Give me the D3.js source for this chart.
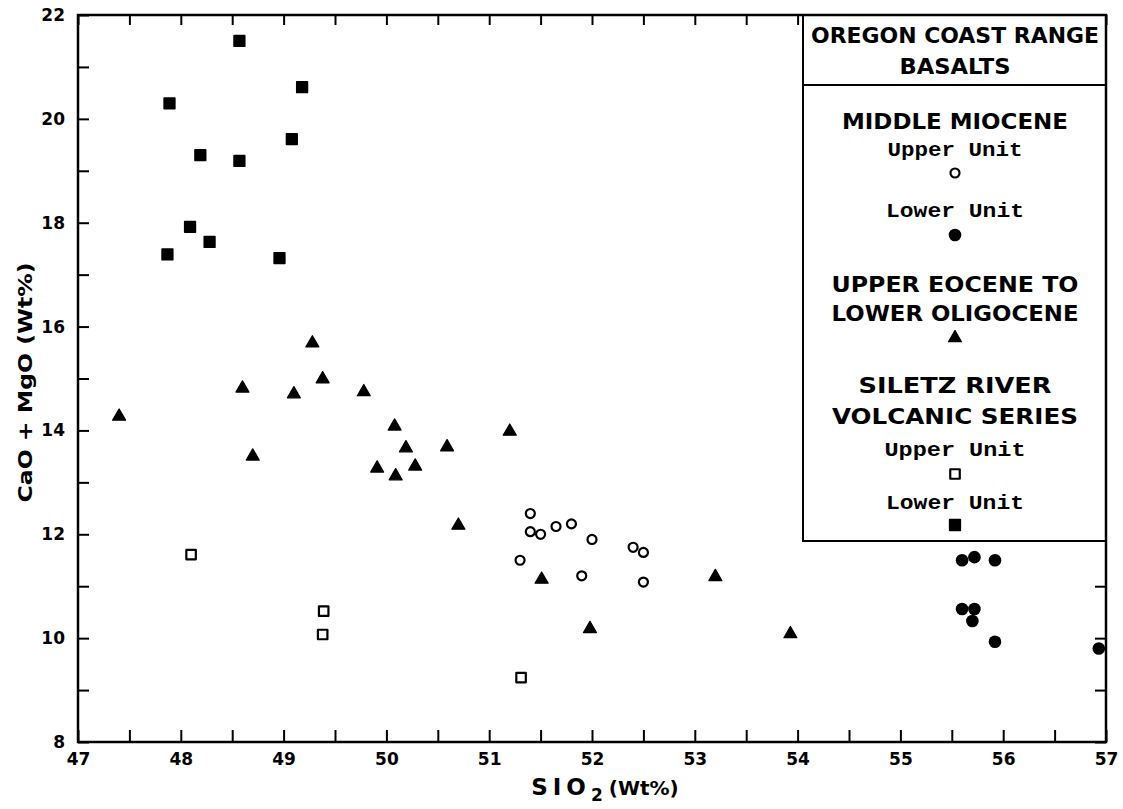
<!DOCTYPE html>
<html>
<head>
<meta charset="utf-8">
<script src="https://cdn.jsdelivr.net/npm/d3@7"></script>
<style>
  body { margin: 0; background: #fff; }
  svg { display: block; }
  .tick text { font-family: "DejaVu Sans", sans-serif; font-weight: bold; font-size: 17px; }
</style>
</head>
<body>
<div id="chart"></div>
<script>
// SiO2 (wt%), CaO + MgO (wt%)
const middleMioceneUpper = [
  [51.3, 11.5], [51.4, 12.4], [51.4, 12.05], [51.5, 12.0], [51.65, 12.15], [51.8, 12.2],
  [52.0, 11.9], [51.9, 11.2], [52.4, 11.75], [52.5, 11.65], [52.5, 11.08]
];
const middleMioceneLower = [
  [55.6, 11.5], [55.72, 11.56], [55.92, 11.5], [55.6, 10.56], [55.72, 10.56],
  [55.7, 10.33], [55.92, 9.93], [56.93, 9.8]
];
const eoceneOligocene = [
  [47.4, 14.27], [48.6, 14.81], [48.7, 13.5], [49.28, 15.68], [49.1, 14.7], [49.38, 14.99],
  [49.78, 14.74], [50.08, 14.08], [50.19, 13.66], [50.59, 13.68], [51.2, 13.98], [49.91, 13.27],
  [50.28, 13.31], [50.09, 13.12], [50.7, 12.17], [51.51, 11.13], [51.98, 10.18], [53.2, 11.18],
  [53.93, 10.08]
];
const siletzUpper = [[48.1, 11.61], [49.39, 10.52], [49.38, 10.07], [51.31, 9.24]];
const siletzLower = [
  [48.57, 21.5], [49.18, 20.61], [47.89, 20.3], [49.08, 19.61], [48.19, 19.3],
  [48.57, 19.19], [48.09, 17.92], [48.28, 17.63], [47.87, 17.39], [48.96, 17.32]
];

const X_DOMAIN = [47, 57];
const Y_DOMAIN = [8, 22];
const legendTitle = ["OREGON COAST RANGE", "BASALTS"];
const legendGroups = ["MIDDLE MIOCENE", "UPPER EOCENE TO|LOWER OLIGOCENE", "SILETZ RIVER|VOLCANIC SERIES"];
const unitLabels = ["Upper Unit", "Lower Unit"];

const WIDTH = 1123, HEIGHT = 809;
const LEFT = 78, RIGHT = 1106, TOP = 15, BOTTOM = 742;

const svg = d3.select("#chart").append("svg")
  .attr("width", WIDTH).attr("height", HEIGHT)
  .style("background", "#fff");

const x = d3.scaleLinear().domain(X_DOMAIN).range([LEFT, RIGHT]);
const y = d3.scaleLinear().domain(Y_DOMAIN).range([BOTTOM, TOP]);

const xTicks = d3.range(47, 57.01, 0.5);
const yTicks = d3.range(8, 22.01, 1);

// axes, ticks pointing inward
svg.append("g").attr("transform", `translate(0,${BOTTOM})`)
  .call(d3.axisBottom(x).tickValues(xTicks).tickSize(-12).tickPadding(11)
    .tickFormat(d => Number.isInteger(d) ? d : ""));
svg.append("g").attr("transform", `translate(0,${TOP})`)
  .call(d3.axisTop(x).tickValues(xTicks).tickSize(-10).tickFormat(""));
svg.append("g").attr("transform", `translate(${LEFT},0)`)
  .call(d3.axisLeft(y).tickValues(yTicks).tickSize(-11).tickPadding(13)
    .tickFormat(d => d % 2 === 0 ? d : ""));
svg.append("g").attr("transform", `translate(${RIGHT},0)`)
  .call(d3.axisRight(y).tickValues(yTicks).tickSize(-11).tickFormat(""));
svg.selectAll(".domain").remove();
svg.selectAll(".tick line").attr("stroke", "#000").attr("stroke-width", 2);

// symbols
const sym = (type, size) => d3.symbol().type(type).size(size)();
const series = [
  { data: middleMioceneUpper, path: sym(d3.symbolCircle, 64), fill: "#fff", stroke: 2.2 },
  { data: middleMioceneLower, path: sym(d3.symbolCircle, 125), fill: "#000", stroke: 0 },
  { data: eoceneOligocene, path: sym(d3.symbolTriangle, 72), fill: "#000", stroke: 1.3 },
  { data: siletzUpper, path: sym(d3.symbolSquare, 90), fill: "#fff", stroke: 2.2 },
  { data: siletzLower, path: sym(d3.symbolSquare, 110), fill: "#000", stroke: 1.8 }
];
series.forEach(s => {
  svg.append("g").selectAll("path")
    .data(s.data)
    .join("path")
    .attr("d", s.path)
    .attr("transform", d => `translate(${x(d[0])},${y(d[1])})`)
    .attr("fill", s.fill)
    .attr("stroke", "#000")
    .attr("stroke-width", s.stroke)
    .attr("stroke-linejoin", "round");
});

// legend
const LX0 = 803, LX1 = RIGHT, CX = 955;
const legend = svg.append("g");
legend.append("rect")
  .attr("x", LX0).attr("y", TOP).attr("width", LX1 - LX0).attr("height", 541 - TOP)
  .attr("fill", "#fff").attr("stroke", "#000").attr("stroke-width", 2);
legend.append("line")
  .attr("x1", LX0).attr("x2", LX1).attr("y1", 85).attr("y2", 85)
  .attr("stroke", "#000").attr("stroke-width", 2);

const caps = (text, cy, w) => legend.append("text")
  .attr("x", CX).attr("y", cy + 8).attr("text-anchor", "middle")
  .attr("font-family", "DejaVu Sans, sans-serif").attr("font-weight", "bold")
  .attr("font-size", 22).attr("textLength", w).attr("lengthAdjust", "spacingAndGlyphs")
  .text(text);
const unit = (text, cy, w) => legend.append("text")
  .attr("x", CX).attr("y", cy + 6).attr("text-anchor", "middle")
  .attr("font-family", "Liberation Mono, monospace").attr("font-weight", "bold")
  .attr("font-size", 20).attr("textLength", w).attr("lengthAdjust", "spacingAndGlyphs")
  .text(text);
const mark = (s, cy) => legend.append("path")
  .attr("d", s.path).attr("transform", `translate(${CX},${cy})`)
  .attr("fill", s.fill).attr("stroke", "#000").attr("stroke-width", s.stroke)
  .attr("stroke-linejoin", "round");

caps(legendTitle[0], 35, 288);
caps(legendTitle[1], 66, 111);
caps(legendGroups[0], 121, 226);
unit(unitLabels[0], 150, 135);
mark(series[0], 173);
unit(unitLabels[1], 211, 138);
mark(series[1], 235);
const eo = legendGroups[1].split("|");
caps(eo[0], 284, 247);
caps(eo[1], 313, 247);
mark(series[2], 338);
const si = legendGroups[2].split("|");
caps(si[0], 385, 193);
caps(si[1], 416, 246);
unit(unitLabels[0], 450, 141);
mark(series[3], 474);
unit(unitLabels[1], 503, 138);
mark(series[4], 525);

// frame
svg.append("rect")
  .attr("x", LEFT).attr("y", TOP).attr("width", RIGHT - LEFT).attr("height", BOTTOM - TOP)
  .attr("fill", "none").attr("stroke", "#000").attr("stroke-width", 2.5);

// axis titles
const xt = svg.append("text")
  .attr("x", 605).attr("y", 795).attr("text-anchor", "middle")
  .attr("font-family", "DejaVu Sans, sans-serif").attr("font-weight", "bold");
xt.append("tspan").attr("font-size", 23).attr("letter-spacing", 5).text("SIO");
xt.append("tspan").attr("font-size", 17).attr("dy", 6).text("2");
xt.append("tspan").attr("font-size", 20).attr("dy", -6).attr("dx", 6).text("(Wt%)");

svg.append("text")
  .attr("transform", `translate(32,${(TOP + BOTTOM) / 2 + 4}) rotate(-90)`)
  .attr("text-anchor", "middle")
  .attr("font-family", "DejaVu Sans, sans-serif").attr("font-weight", "bold")
  .attr("font-size", 20).attr("textLength", 240).attr("lengthAdjust", "spacingAndGlyphs")
  .text("CaO + MgO (Wt%)");
</script>
</body>
</html>
